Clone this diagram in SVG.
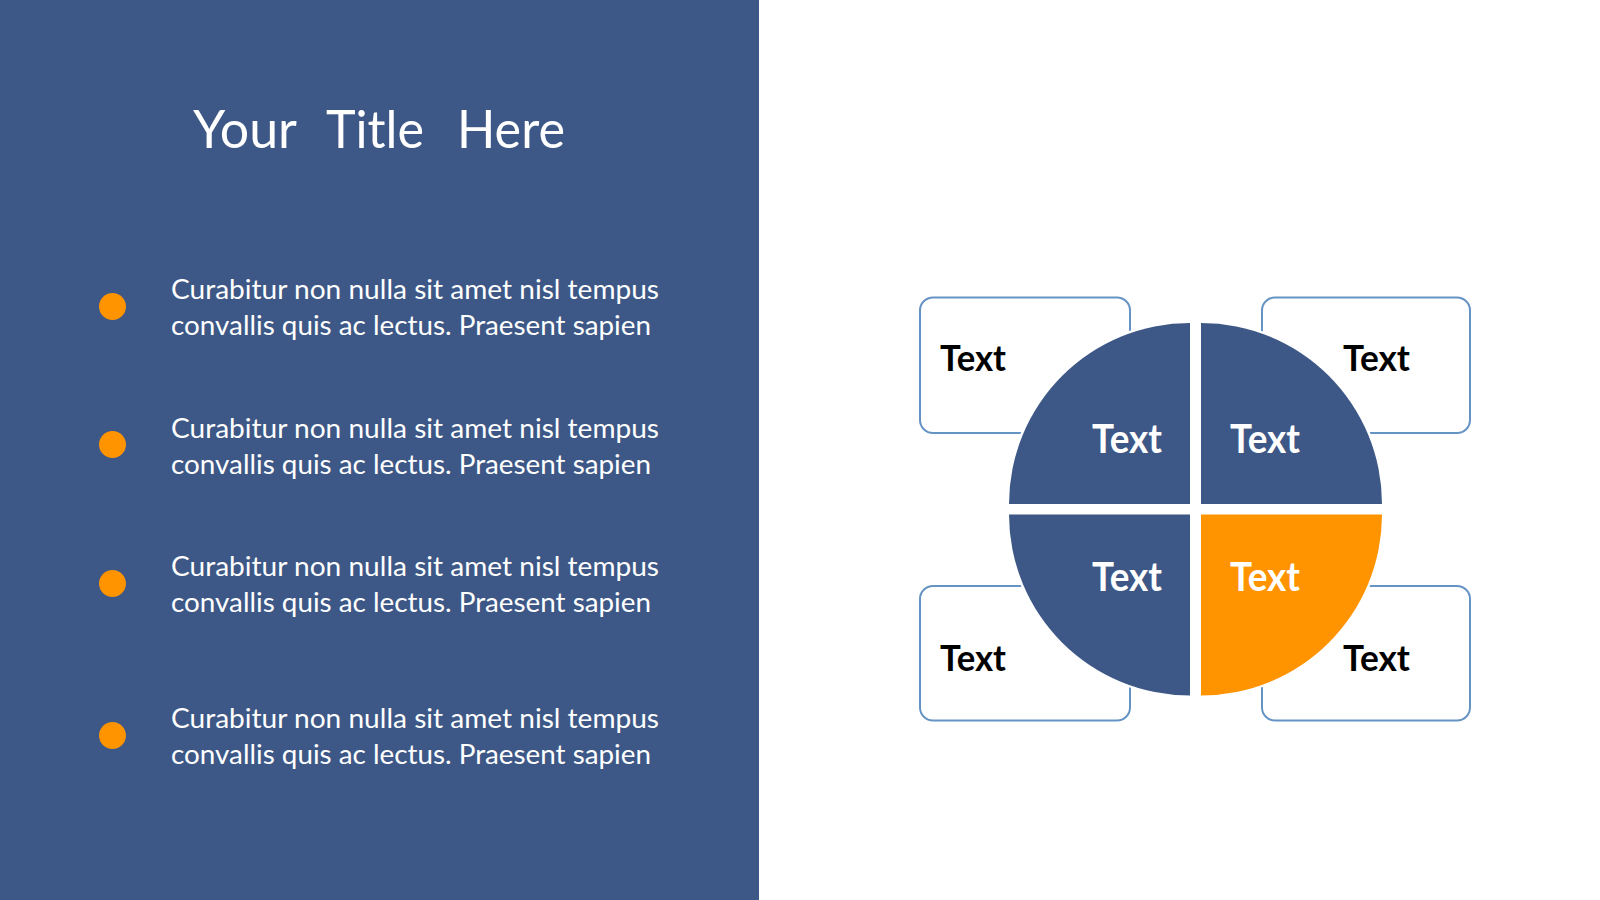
<svg xmlns="http://www.w3.org/2000/svg" width="1600" height="900" viewBox="0 0 1600 900">
<style>
.title{font-family:Lato,"Open Sans",sans-serif;font-size:52px;fill:#ffffff;font-weight:400}
.body{font-family:Lato,"Open Sans",sans-serif;font-size:26px;fill:#ffffff}
.dot{fill:#FF9300}
.box{fill:#ffffff;stroke:#6593C4;stroke-width:2}
.q{stroke:#ffffff;stroke-width:5;paint-order:stroke}
.blue{fill:#3D5886}
.orange{fill:#FF9300}
.lbl{font-family:Lato,"Open Sans",sans-serif;font-weight:700;font-size:37px;fill:#000000}
.qlbl{font-family:Lato,"Open Sans",sans-serif;font-weight:700;font-size:40px;fill:#ffffff}
</style>
<rect x="0" y="0" width="1600" height="900" fill="#ffffff"/>
<g id="panel">
<rect x="0" y="0" width="759" height="900" fill="#3D5886"/>
<text class="title" x="193" y="148" textLength="104" lengthAdjust="spacingAndGlyphs">Your</text>
<text class="title" x="326" y="148" textLength="98" lengthAdjust="spacingAndGlyphs">Title</text>
<text class="title" x="457" y="148" textLength="108" lengthAdjust="spacingAndGlyphs">Here</text>
</g>
<g id="bullet1">
<circle class="dot" cx="112.5" cy="306.5" r="13.5"/>
<text class="body" x="171" y="299" textLength="488" lengthAdjust="spacingAndGlyphs">Curabitur non nulla sit amet nisl tempus</text>
<text class="body" x="171" y="335" textLength="480" lengthAdjust="spacingAndGlyphs">convallis quis ac lectus. Praesent sapien</text>
</g>
<g id="bullet2">
<circle class="dot" cx="112.5" cy="444.5" r="13.5"/>
<text class="body" x="171" y="438" textLength="488" lengthAdjust="spacingAndGlyphs">Curabitur non nulla sit amet nisl tempus</text>
<text class="body" x="171" y="474" textLength="480" lengthAdjust="spacingAndGlyphs">convallis quis ac lectus. Praesent sapien</text>
</g>
<g id="bullet3">
<circle class="dot" cx="112.5" cy="583.5" r="13.5"/>
<text class="body" x="171" y="576" textLength="488" lengthAdjust="spacingAndGlyphs">Curabitur non nulla sit amet nisl tempus</text>
<text class="body" x="171" y="612" textLength="480" lengthAdjust="spacingAndGlyphs">convallis quis ac lectus. Praesent sapien</text>
</g>
<g id="bullet4">
<circle class="dot" cx="112.5" cy="735.5" r="13.5"/>
<text class="body" x="171" y="728" textLength="488" lengthAdjust="spacingAndGlyphs">Curabitur non nulla sit amet nisl tempus</text>
<text class="body" x="171" y="764" textLength="480" lengthAdjust="spacingAndGlyphs">convallis quis ac lectus. Praesent sapien</text>
</g>
<g id="box-tl">
<rect class="box" x="920" y="297.5" width="210" height="135.5" rx="13"/>
<text class="lbl" x="940" y="371" textLength="66" lengthAdjust="spacingAndGlyphs">Text</text>
</g>
<g id="box-tr">
<rect class="box" x="1262" y="297.5" width="208" height="135.5" rx="13"/>
<text class="lbl" x="1343" y="371" textLength="67" lengthAdjust="spacingAndGlyphs">Text</text>
</g>
<g id="box-bl">
<rect class="box" x="920" y="586" width="210" height="134.5" rx="13"/>
<text class="lbl" x="940" y="671" textLength="66" lengthAdjust="spacingAndGlyphs">Text</text>
</g>
<g id="box-br">
<rect class="box" x="1262" y="586" width="208" height="134.5" rx="13"/>
<text class="lbl" x="1343" y="671" textLength="67" lengthAdjust="spacingAndGlyphs">Text</text>
</g>
<g id="quad-tl">
<path class="q blue" d="M1190,504 L1009,504 A181,181 0 0 1 1190,323 Z"/>
<text class="qlbl" x="1092" y="453" textLength="70" lengthAdjust="spacingAndGlyphs">Text</text>
</g>
<g id="quad-tr">
<path class="q blue" d="M1201,504 L1201,323 A181,181 0 0 1 1382,504 Z"/>
<text class="qlbl" x="1230" y="453" textLength="70" lengthAdjust="spacingAndGlyphs">Text</text>
</g>
<g id="quad-bl">
<path class="q blue" d="M1190,514.5 L1190,695.5 A181,181 0 0 1 1009,514.5 Z"/>
<text class="qlbl" x="1092" y="591" textLength="70" lengthAdjust="spacingAndGlyphs">Text</text>
</g>
<g id="quad-br">
<path class="q orange" d="M1201,514.5 L1382,514.5 A181,181 0 0 1 1201,695.5 Z"/>
<text class="qlbl" x="1230" y="591" textLength="70" lengthAdjust="spacingAndGlyphs">Text</text>
</g>
<g id="connectors"/>
</svg>
